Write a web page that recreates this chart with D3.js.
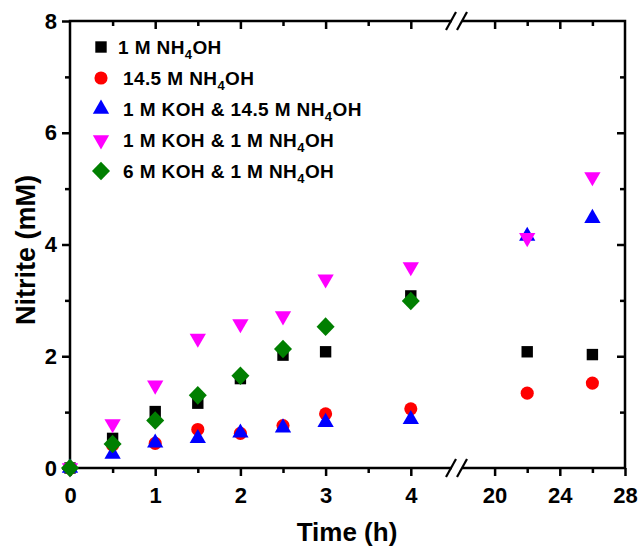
<!DOCTYPE html>
<html>
<head>
<meta charset="utf-8">
<title>Nitrite vs time</title>
<script src="https://d3js.org/d3.v7.min.js"></script>
<style>
  body { margin: 0; background: #fff; }
  svg text { font-family: "Liberation Sans", Arial, sans-serif; font-weight: bold; fill: #000; }
</style>
</head>
<body>
<svg id="chart" width="640" height="550"></svg>
<script>
// data
const times = [0, 0.5, 1, 1.5, 2, 2.5, 3, 4, 22, 26];
const nh4oh1   = [0, 0.53, 1.01, 1.16, 1.60, 2.02, 2.08, 3.08, 2.08, 2.03];
const nh4oh145 = [0, 0.41, 0.44, 0.69, 0.62, 0.76, 0.97, 1.06, 1.34, 1.52];
const koh1nh145 = [0, 0.25, 0.45, 0.53, 0.63, 0.72, 0.82, 0.87, 4.15, 4.47];
const koh1nh1  = [0, 0.79, 1.48, 2.32, 2.58, 2.72, 3.38, 3.60, 4.12, 5.21];
const koh6nh1  = [0, 0.43, 0.85, 1.30, 1.65, 2.13, 2.53, 2.99, null, null];

const seriesNames = ["1 M NH|4|OH", "14.5 M NH|4|OH", "1 M KOH & 14.5 M NH|4|OH",
                     "1 M KOH & 1 M NH|4|OH", "6 M KOH & 1 M NH|4|OH"];
const seriesValues = [nh4oh1, nh4oh145, koh1nh145, koh1nh1, koh6nh1];
const seriesColors = ["#000000", "#ff0000", "#0000ff", "#ff00ff", "#007f00"];
const seriesShapes = ["square", "circle", "triangle", "triangle-down", "diamond"];

const leftMajor = [0, 1, 2, 3, 4], leftMinor = [0.5, 1.5, 2.5, 3.5];
const rightMajor = [20, 24, 28], rightMinor = [22, 26];
const yMajor = [0, 2, 4, 6, 8], yMinor = [1, 3, 5, 7];

const svg = d3.select("#chart");

const pLeft = 70, pRight = 625, pTop = 21, pBottom = 468, brk = 457;
const x1 = d3.scaleLinear().domain([0, 4.5]).range([pLeft, pLeft + 4.5 * 85.2]);
const x2 = d3.scaleLinear().domain([17.5, 28]).range([pRight - 10.5 * 16.3, pRight]);
const xs = t => t <= 4.5 ? x1(t) : x2(t);
const y = d3.scaleLinear().domain([0, 8]).range([pBottom, pTop]);

// axes
function styleAxis(g) {
  g.select(".domain").remove();
  g.selectAll(".tick line").attr("stroke", "#000").attr("stroke-width", 2.5);
  g.selectAll(".tick text").style("font-size", "22px");
}

function hAxis(scale, major, minor) {
  svg.append("g").attr("transform", `translate(0,${pBottom})`)
    .call(d3.axisBottom(scale).tickValues(major).tickSize(8).tickFormat(d3.format("d")))
    .call(g => { styleAxis(g); g.selectAll(".tick text").attr("dy", null).attr("y", 35); });
  svg.append("g").attr("transform", `translate(0,${pBottom})`)
    .call(d3.axisBottom(scale).tickValues(minor).tickSize(5).tickFormat(""))
    .call(styleAxis);
}
hAxis(x1, leftMajor, leftMinor);
hAxis(x2, rightMajor, rightMinor);
// top mirror ticks (point into the plot)
svg.append("g").attr("transform", `translate(0,${pTop})`)
  .call(d3.axisBottom(x1).tickValues(leftMajor.slice(1)).tickSize(8).tickFormat("")).call(styleAxis);
svg.append("g").attr("transform", `translate(0,${pTop})`)
  .call(d3.axisBottom(x1).tickValues(leftMinor).tickSize(5).tickFormat("")).call(styleAxis);
svg.append("g").attr("transform", `translate(0,${pTop})`)
  .call(d3.axisBottom(x2).tickValues(rightMajor.slice(0, 2)).tickSize(8).tickFormat("")).call(styleAxis);
svg.append("g").attr("transform", `translate(0,${pTop})`)
  .call(d3.axisBottom(x2).tickValues(rightMinor).tickSize(5).tickFormat("")).call(styleAxis);

svg.append("g").attr("transform", `translate(${pLeft},0)`)
  .call(d3.axisLeft(y).tickValues(yMajor).tickSize(8).tickFormat(d3.format("d")))
  .call(g => { styleAxis(g); g.selectAll(".tick text").attr("x", -13); });
svg.append("g").attr("transform", `translate(${pLeft},0)`)
  .call(d3.axisLeft(y).tickValues(yMinor).tickSize(5).tickFormat("")).call(styleAxis);
svg.append("g").attr("transform", `translate(${pRight},0)`)
  .call(d3.axisLeft(y).tickValues(yMajor.slice(1, 4)).tickSize(8).tickFormat("")).call(styleAxis);
svg.append("g").attr("transform", `translate(${pRight},0)`)
  .call(d3.axisLeft(y).tickValues(yMinor).tickSize(5).tickFormat("")).call(styleAxis);

// frame
svg.append("rect").attr("x", pLeft).attr("y", pTop)
  .attr("width", pRight - pLeft).attr("height", pBottom - pTop)
  .attr("fill", "none").attr("stroke", "#000").attr("stroke-width", 2.5);

// break marks
[pTop, pBottom].forEach(yy => {
  svg.append("rect").attr("x", brk - 5).attr("y", yy - 3).attr("width", 10).attr("height", 6).attr("fill", "#fff");
  [-6, 5].forEach(dx => {
    svg.append("line")
      .attr("x1", brk + dx - 5).attr("y1", yy + 9)
      .attr("x2", brk + dx + 5).attr("y2", yy - 9)
      .attr("stroke", "#000").attr("stroke-width", 2.2);
  });
});

// markers
const symTypes = {
  square: d3.symbolSquare, circle: d3.symbolCircle, triangle: d3.symbolTriangle,
  "triangle-down": d3.symbolTriangle, diamond: d3.symbolDiamond
};
const symSize = { square: 130, circle: 135, triangle: 115, "triangle-down": 115, diamond: 110 };

function marker(g, shape, color) {
  g.append("path")
    .attr("d", d3.symbol().type(symTypes[shape]).size(symSize[shape])())
    .attr("transform", shape === "triangle-down" ? "rotate(180)" : shape === "diamond" ? "scale(1.6,0.95)" : null)
    .attr("fill", color);
}

seriesValues.forEach((vals, si) => {
  const pts = times.map((t, i) => ({ t, v: vals[i] })).filter(d => d.v !== null);
  svg.append("g").selectAll("g")
    .data(pts).join("g")
    .attr("transform", d => `translate(${xs(d.t)},${y(d.v)})`)
    .each(function () { marker(d3.select(this), seriesShapes[si], seriesColors[si]); });
});

// legend
const legend = svg.append("g");
seriesNames.forEach((name, i) => {
  const row = legend.append("g").attr("transform", `translate(101,${47 + i * 31})`);
  marker(row, seriesShapes[i], seriesColors[i]);
  const parts = name.split("|");
  const txt = row.append("text").attr("x", i === 0 ? 17 : 22).attr("y", 7)
    .style("font-size", "19px").style("letter-spacing", "0.4px");
  txt.append("tspan").text(parts[0]);
  txt.append("tspan").text(parts[1]).style("font-size", "13px").attr("dy", 5);
  txt.append("tspan").text(parts[2]).attr("dy", -5);
});

// titles
svg.append("text").attr("x", 347).attr("y", 541).attr("text-anchor", "middle")
  .style("font-size", "26px").text("Time (h)");
svg.append("text").attr("transform", "translate(35,250) rotate(-90)").attr("text-anchor", "middle")
  .style("font-size", "27px").text("Nitrite (mM)");
</script>
</body>
</html>
